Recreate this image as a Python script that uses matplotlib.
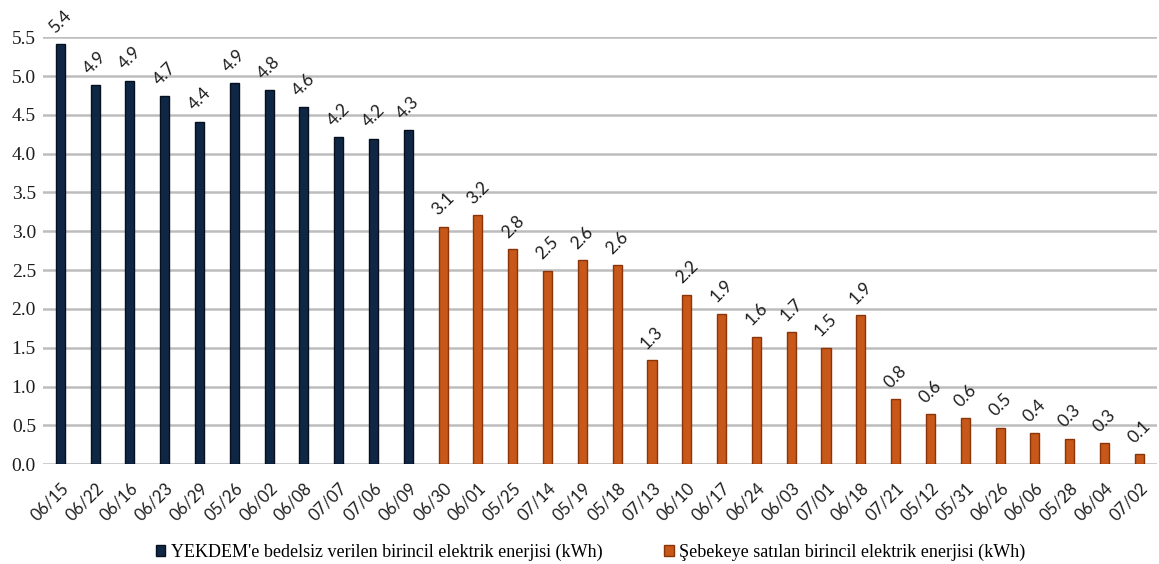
import matplotlib
matplotlib.use("Agg")
import matplotlib.pyplot as plt
import numpy as np

categories = ["06/15", "06/22", "06/16", "06/23", "06/29", "05/26", "06/02", "06/08",
              "07/07", "07/06", "06/09", "06/30", "06/01", "05/25", "07/14", "05/19",
              "05/18", "07/13", "06/10", "06/17", "06/24", "06/03", "07/01", "06/18",
              "07/21", "05/12", "05/31", "06/26", "06/06", "05/28", "06/04", "07/02"]

yekdem_values = [5.41, 4.88, 4.94, 4.74, 4.41, 4.91, 4.82, 4.60, 4.21, 4.19, 4.30]
sebeke_values = [3.06, 3.21, 2.77, 2.49, 2.63, 2.56, 1.34, 2.18, 1.94, 1.64, 1.70,
                 1.50, 1.92, 0.84, 0.64, 0.59, 0.47, 0.40, 0.33, 0.27, 0.13]

series_names = ["YEKDEM'e bedelsiz verilen birincil elektrik enerjisi (kWh)",
                "Şebekeye satılan birincil elektrik enerjisi (kWh)"]
yticks = [0.0, 0.5, 1.0, 1.5, 2.0, 2.5, 3.0, 3.5, 4.0, 4.5, 5.0, 5.5]

plt.rcParams['font.family'] = ['Liberation Serif', 'DejaVu Serif']
SANS = ['Lato', 'DejaVu Sans']

fig = plt.figure(figsize=(11.59, 5.64), dpi=100)
ax = fig.add_axes([0.037, 0.177, 0.961, 0.757])

x = np.arange(len(categories))
n1 = len(yekdem_values)
x1 = x[:n1]
x2 = x[n1:n1 + len(sebeke_values)]

width = 0.26
b1 = ax.bar(x1, yekdem_values, width=width, color="#0f2744", edgecolor="#050f1e",
            linewidth=1.0, label=series_names[0], zorder=3)
b2 = ax.bar(x2, sebeke_values, width=width, color="#c8581a", edgecolor="#8a3409",
            linewidth=1.0, label=series_names[1], zorder=3)

for xs, vals in ((x1, yekdem_values), (x2, sebeke_values)):
    for xi, v in zip(xs, vals):
        ax.annotate(f"{v:.1f}", xy=(xi, v), xytext=(0, 6), textcoords="offset points",
                    ha="center", va="bottom", rotation=45, fontsize=12.5, color="#1e1e1e",
                    family=SANS)

ax.set_xlim(-0.5, len(categories) - 0.5)
ax.set_ylim(0, 5.5)
ax.set_yticks(yticks)
ax.set_yticklabels([f"{t:.1f}" for t in yticks], fontsize=14)
ax.set_xticks(x)
ax.set_xticklabels(categories, rotation=45, ha="right", rotation_mode="anchor", fontsize=12,
                   family=SANS, color="#1e1e1e")
ax.tick_params(axis="both", length=0, colors="#1e1e1e")
ax.tick_params(axis="x", pad=11)
ax.tick_params(axis="y", pad=5)
ax.grid(axis="y", color="#bdbdbd", linewidth=1.8, zorder=0)
ax.set_axisbelow(True)
for s in ax.spines.values():
    s.set_visible(False)

fig.legend(handles=[b1, b2], labels=series_names, loc="center", bbox_to_anchor=(0.5095, 0.021),
           ncol=2, frameon=False, fontsize=13, handlelength=0.55, handleheight=0.55,
           handletextpad=0.3, columnspacing=3.4)

fig.savefig("out.png", dpi=100)
